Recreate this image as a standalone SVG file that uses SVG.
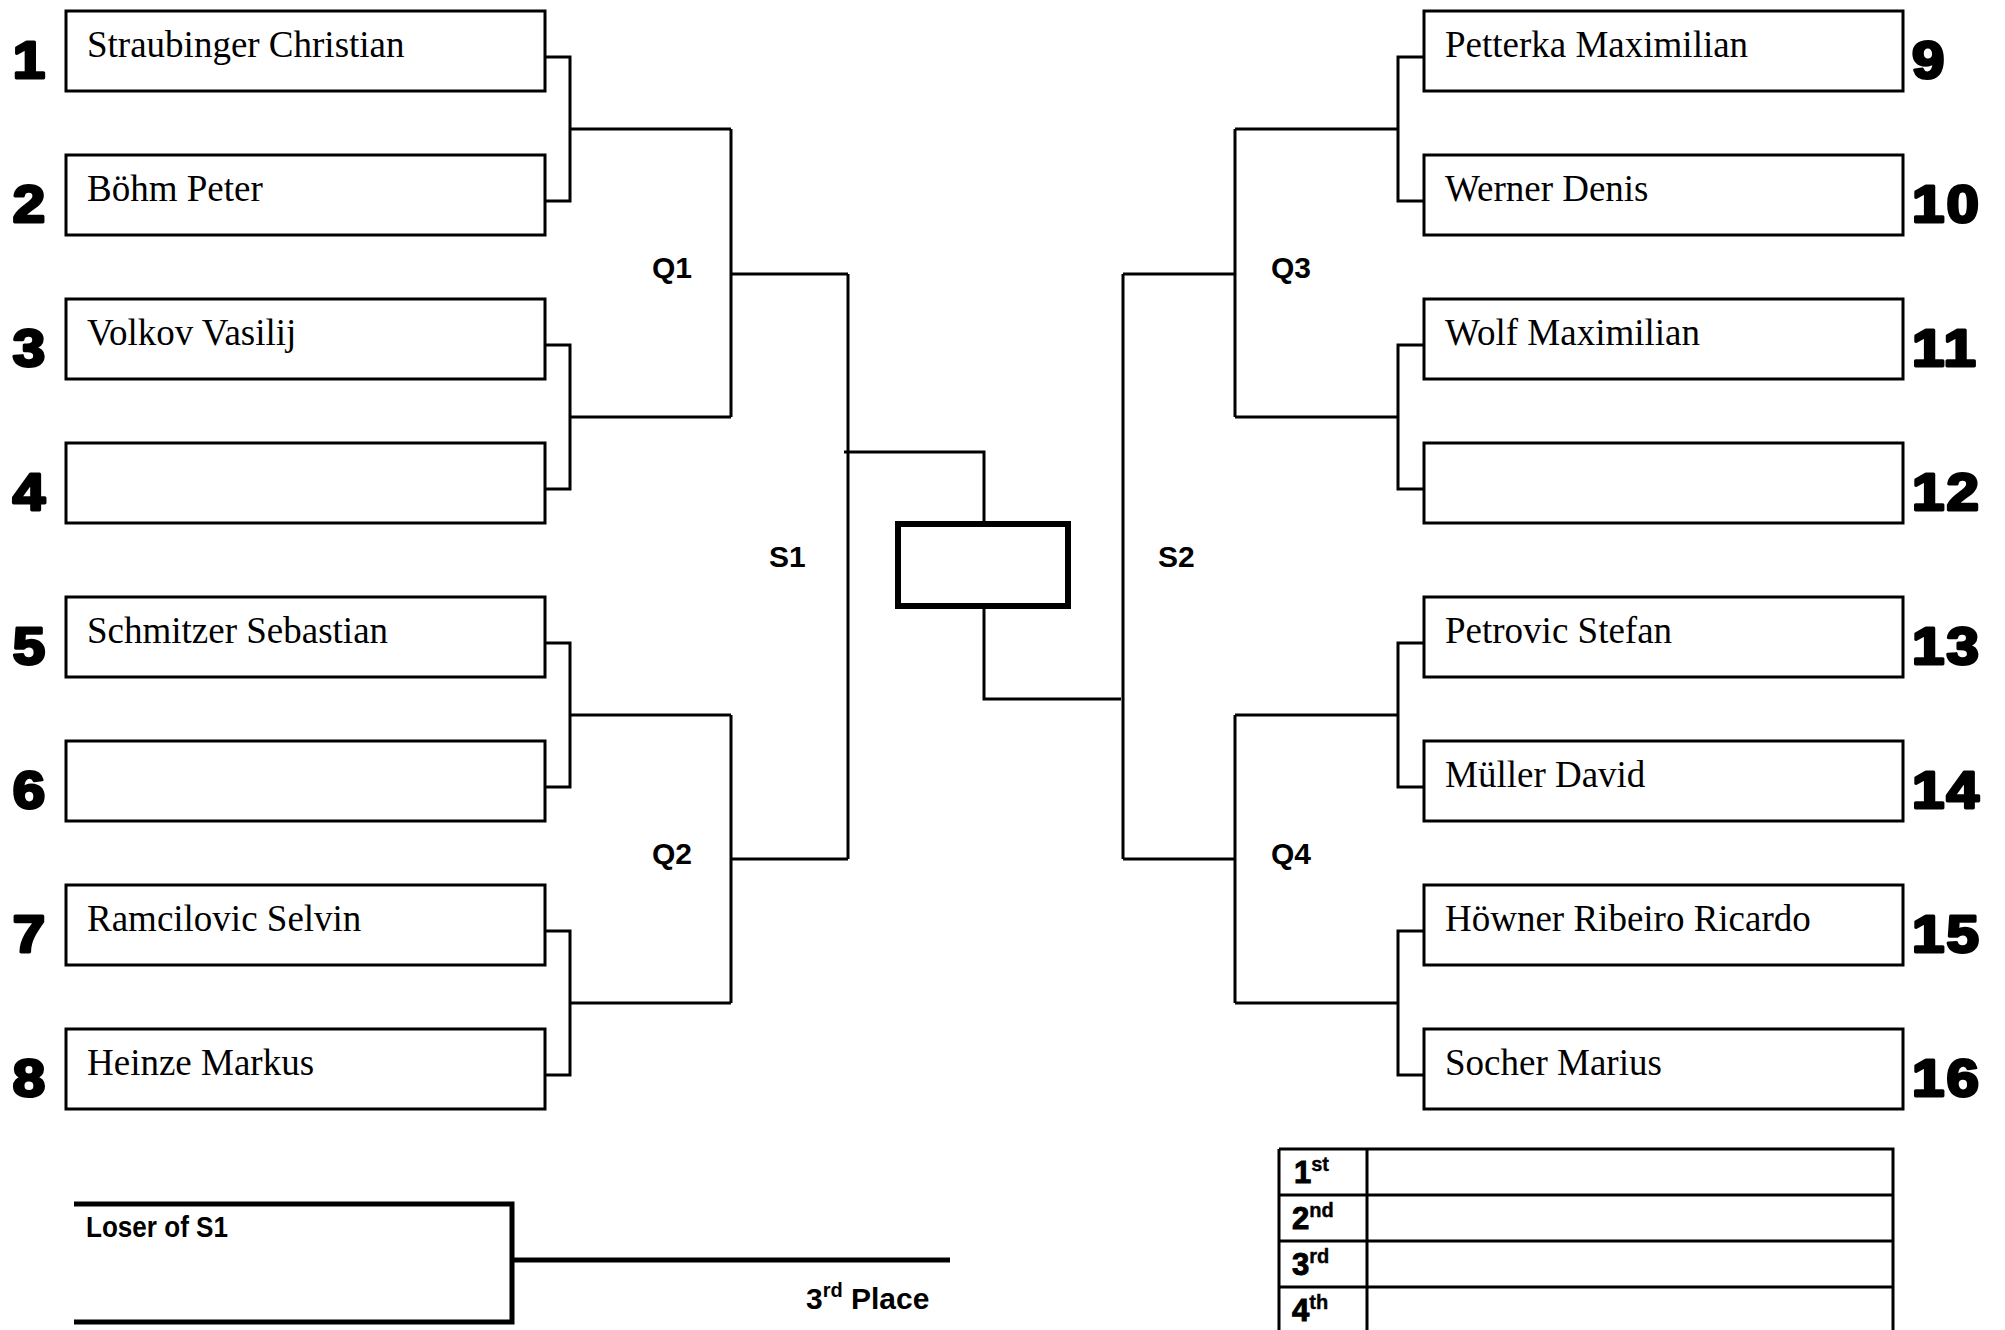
<svg xmlns="http://www.w3.org/2000/svg" width="2005" height="1330" viewBox="0 0 2005 1330">
<style>
.box{fill:#fff;stroke:#000;stroke-width:3}
.name{font-family:"Liberation Serif","Times New Roman",serif;font-size:37px;fill:#000}
.num{font-family:"Liberation Sans",Arial,sans-serif;font-weight:bold;font-size:52px;fill:#000;stroke:#000;stroke-width:3;stroke-linejoin:round}
.lbl{font-family:"Liberation Sans",Arial,sans-serif;font-weight:bold;font-size:30px;fill:#000}
.plc{font-family:"Liberation Sans",Arial,sans-serif;font-weight:bold;font-size:31px;fill:#000;stroke:#000;stroke-width:1}
.sup{font-size:20px;stroke-width:0.4}
.ln{fill:none;stroke:#000;stroke-width:3}
.thick{fill:none;stroke:#000;stroke-width:5}
</style>
<rect width="2005" height="1330" fill="#fff"/>
<g id="connectors">
<path class="ln" d="M545 57H570V201H545 M570 129H731 M545 345H570V489H545 M570 417H731 M731 129V417 M731 274H848"/>
<path class="ln" d="M545 643H570V787H545 M570 715H731 M545 931H570V1075H545 M570 1003H731 M731 715V1003 M731 859H848"/>
<path class="ln" d="M848 274V859 M844 452H984V524"/>
<path class="ln" d="M1424 57H1398V201H1424 M1398 129H1235 M1424 345H1398V489H1424 M1398 417H1235 M1235 129V417 M1235 274H1123"/>
<path class="ln" d="M1424 643H1398V787H1424 M1398 715H1235 M1424 931H1398V1075H1424 M1398 1003H1235 M1235 715V1003 M1235 859H1123"/>
<path class="ln" d="M1123 274V859 M984 606V699H1121"/>
</g>
<g id="labels">
<text class="lbl" x="652" y="278">Q1</text>
<text class="lbl" x="652" y="864">Q2</text>
<text class="lbl" x="769" y="567">S1</text>
<text class="lbl" x="1271" y="278">Q3</text>
<text class="lbl" x="1271" y="864">Q4</text>
<text class="lbl" x="1158" y="567">S2</text>
</g>
<g id="final">
<rect x="898" y="524" width="170" height="82" fill="#fff" stroke="#000" stroke-width="6"/>
</g>
<g id="p1"><rect class="box" x="66" y="11" width="479" height="80"/><text class="name" x="87" y="57">Straubinger Christian</text><text class="num" transform="matrix(1.12 0 0 1 29 78)" text-anchor="middle">1</text></g>
<g id="p2"><rect class="box" x="66" y="155" width="479" height="80"/><text class="name" x="87" y="201">Böhm Peter</text><text class="num" transform="matrix(1.12 0 0 1 29 222)" text-anchor="middle">2</text></g>
<g id="p3"><rect class="box" x="66" y="299" width="479" height="80"/><text class="name" x="87" y="345">Volkov Vasilij</text><text class="num" transform="matrix(1.12 0 0 1 29 366)" text-anchor="middle">3</text></g>
<g id="p4"><rect class="box" x="66" y="443" width="479" height="80"/><text class="num" transform="matrix(1.12 0 0 1 29 510)" text-anchor="middle">4</text></g>
<g id="p5"><rect class="box" x="66" y="597" width="479" height="80"/><text class="name" x="87" y="643">Schmitzer Sebastian</text><text class="num" transform="matrix(1.12 0 0 1 29 664)" text-anchor="middle">5</text></g>
<g id="p6"><rect class="box" x="66" y="741" width="479" height="80"/><text class="num" transform="matrix(1.12 0 0 1 29 808)" text-anchor="middle">6</text></g>
<g id="p7"><rect class="box" x="66" y="885" width="479" height="80"/><text class="name" x="87" y="931">Ramcilovic Selvin</text><text class="num" transform="matrix(1.12 0 0 1 29 952)" text-anchor="middle">7</text></g>
<g id="p8"><rect class="box" x="66" y="1029" width="479" height="80"/><text class="name" x="87" y="1075">Heinze Markus</text><text class="num" transform="matrix(1.12 0 0 1 29 1096)" text-anchor="middle">8</text></g>
<g id="p9"><rect class="box" x="1424" y="11" width="479" height="80"/><text class="name" x="1445" y="57">Petterka Maximilian</text><text class="num" transform="matrix(1.12 0 0 1 1912 78)" letter-spacing="2">9</text></g>
<g id="p10"><rect class="box" x="1424" y="155" width="479" height="80"/><text class="name" x="1445" y="201">Werner Denis</text><text class="num" transform="matrix(1.12 0 0 1 1912 222)" letter-spacing="2">10</text></g>
<g id="p11"><rect class="box" x="1424" y="299" width="479" height="80"/><text class="name" x="1445" y="345">Wolf Maximilian</text><text class="num" transform="matrix(1.12 0 0 1 1912 366)" letter-spacing="2">11</text></g>
<g id="p12"><rect class="box" x="1424" y="443" width="479" height="80"/><text class="num" transform="matrix(1.12 0 0 1 1912 510)" letter-spacing="2">12</text></g>
<g id="p13"><rect class="box" x="1424" y="597" width="479" height="80"/><text class="name" x="1445" y="643">Petrovic Stefan</text><text class="num" transform="matrix(1.12 0 0 1 1912 664)" letter-spacing="2">13</text></g>
<g id="p14"><rect class="box" x="1424" y="741" width="479" height="80"/><text class="name" x="1445" y="787">Müller David</text><text class="num" transform="matrix(1.12 0 0 1 1912 808)" letter-spacing="2">14</text></g>
<g id="p15"><rect class="box" x="1424" y="885" width="479" height="80"/><text class="name" x="1445" y="931">Höwner Ribeiro Ricardo</text><text class="num" transform="matrix(1.12 0 0 1 1912 952)" letter-spacing="2">15</text></g>
<g id="p16"><rect class="box" x="1424" y="1029" width="479" height="80"/><text class="name" x="1445" y="1075">Socher Marius</text><text class="num" transform="matrix(1.12 0 0 1 1912 1096)" letter-spacing="2">16</text></g>
<g id="third-place">
<path class="thick" d="M74 1204H512V1322H74 M512 1260H950"/>
<text class="lbl" x="86" y="1237" font-size="26" textLength="142" lengthAdjust="spacingAndGlyphs">Loser of S1</text>
<text class="lbl" x="806" y="1309" font-size="32">3<tspan font-size="20" dy="-12">rd</tspan><tspan dy="12"> Place</tspan></text>
</g>
<g id="standings">
<path class="ln" d="M1279 1149H1893V1340 M1279 1149V1340 M1367 1149V1340 M1279 1195H1893 M1279 1241H1893 M1279 1287H1893"/>
<text class="plc" x="1294" y="1183">1<tspan class="sup" dy="-12">st</tspan></text>
<text class="plc" x="1292" y="1229">2<tspan class="sup" dy="-12">nd</tspan></text>
<text class="plc" x="1292" y="1275">3<tspan class="sup" dy="-12">rd</tspan></text>
<text class="plc" x="1292" y="1321">4<tspan class="sup" dy="-12">th</tspan></text>
</g>
</svg>
